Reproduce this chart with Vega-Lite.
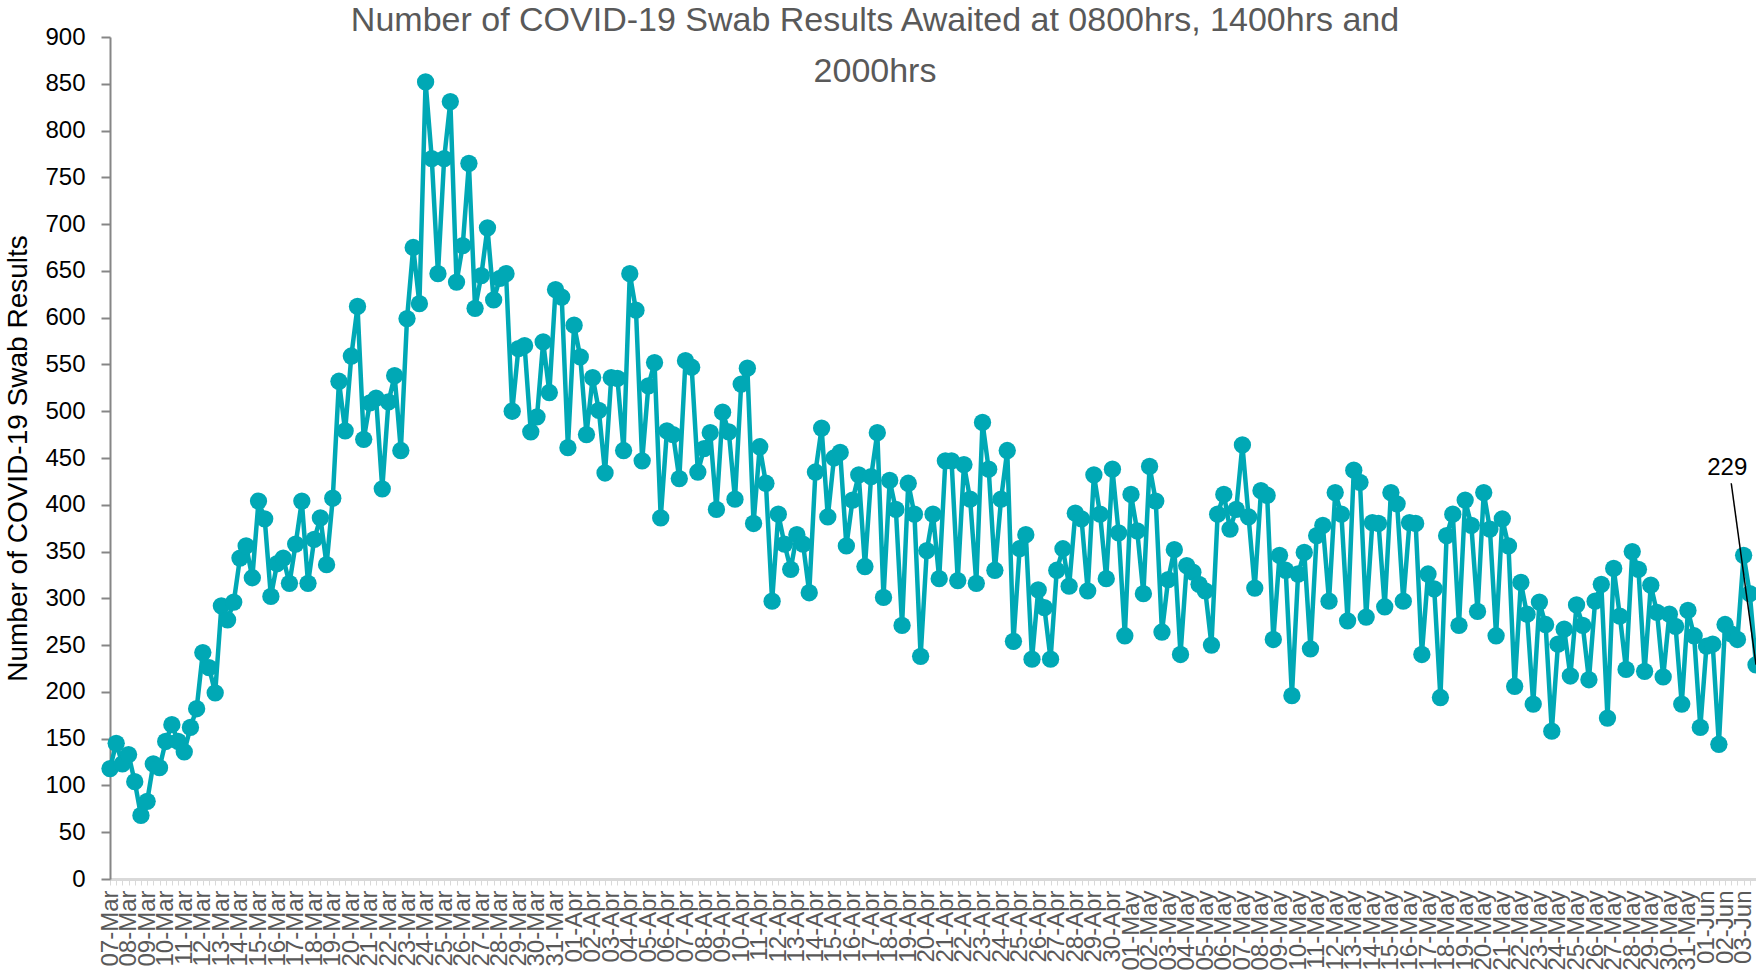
{
  "$schema": "https://vega.github.io/schema/vega-lite/v6.json",
  "autosize": "none",
  "width": 1646,
  "height": 842,
  "padding": {"left": 110, "top": 37, "right": 0, "bottom": 93},
  "background": "white",
  "config": {"view": {"stroke": null}, "font": "Liberation Sans"},
  "title": {
    "text": ["Number of COVID-19 Swab Results Awaited at 0800hrs, 1400hrs and", "2000hrs"],
    "font": "Liberation Sans",
    "fontSize": 34,
    "fontWeight": "normal",
    "color": "#595959",
    "lineHeight": 51,
    "anchor": "middle",
    "frame": "group",
    "dx": -58,
    "dy": 68
  },
  "datasets": {
    "swabs": [
{"slot":"07-Mar 0800","n":118},{"slot":"07-Mar 1400","n":145},{"slot":"07-Mar 2000","n":123},
{"slot":"08-Mar 0800","n":133},{"slot":"08-Mar 1400","n":104},{"slot":"08-Mar 2000","n":68},
{"slot":"09-Mar 0800","n":83},{"slot":"09-Mar 1400","n":123},{"slot":"09-Mar 2000","n":119},
{"slot":"10-Mar 0800","n":147},{"slot":"10-Mar 1400","n":165},{"slot":"10-Mar 2000","n":147},
{"slot":"11-Mar 0800","n":136},{"slot":"11-Mar 1400","n":162},{"slot":"11-Mar 2000","n":182},
{"slot":"12-Mar 0800","n":242},{"slot":"12-Mar 1400","n":226},{"slot":"12-Mar 2000","n":199},
{"slot":"13-Mar 0800","n":292},{"slot":"13-Mar 1400","n":277},{"slot":"13-Mar 2000","n":296},
{"slot":"14-Mar 0800","n":343},{"slot":"14-Mar 1400","n":356},{"slot":"14-Mar 2000","n":322},
{"slot":"15-Mar 0800","n":404},{"slot":"15-Mar 1400","n":385},{"slot":"15-Mar 2000","n":302},
{"slot":"16-Mar 0800","n":337},{"slot":"16-Mar 1400","n":343},{"slot":"16-Mar 2000","n":316},
{"slot":"17-Mar 0800","n":358},{"slot":"17-Mar 1400","n":404},{"slot":"17-Mar 2000","n":316},
{"slot":"18-Mar 0800","n":363},{"slot":"18-Mar 1400","n":386},{"slot":"18-Mar 2000","n":336},
{"slot":"19-Mar 0800","n":407},{"slot":"19-Mar 1400","n":532},{"slot":"19-Mar 2000","n":479},
{"slot":"20-Mar 0800","n":559},{"slot":"20-Mar 1400","n":612},{"slot":"20-Mar 2000","n":470},
{"slot":"21-Mar 0800","n":509},{"slot":"21-Mar 1400","n":514},{"slot":"21-Mar 2000","n":417},
{"slot":"22-Mar 0800","n":510},{"slot":"22-Mar 1400","n":538},{"slot":"22-Mar 2000","n":458},
{"slot":"23-Mar 0800","n":599},{"slot":"23-Mar 1400","n":675},{"slot":"23-Mar 2000","n":615},
{"slot":"24-Mar 0800","n":852},{"slot":"24-Mar 1400","n":770},{"slot":"24-Mar 2000","n":647},
{"slot":"25-Mar 0800","n":770},{"slot":"25-Mar 1400","n":831},{"slot":"25-Mar 2000","n":638},
{"slot":"26-Mar 0800","n":677},{"slot":"26-Mar 1400","n":765},{"slot":"26-Mar 2000","n":610},
{"slot":"27-Mar 0800","n":645},{"slot":"27-Mar 1400","n":696},{"slot":"27-Mar 2000","n":619},
{"slot":"28-Mar 0800","n":642},{"slot":"28-Mar 1400","n":647},{"slot":"28-Mar 2000","n":500},
{"slot":"29-Mar 0800","n":567},{"slot":"29-Mar 1400","n":570},{"slot":"29-Mar 2000","n":478},
{"slot":"30-Mar 0800","n":494},{"slot":"30-Mar 1400","n":574},{"slot":"30-Mar 2000","n":520},
{"slot":"31-Mar 0800","n":630},{"slot":"31-Mar 1400","n":622},{"slot":"31-Mar 2000","n":461},
{"slot":"01-Apr 0800","n":592},{"slot":"01-Apr 1400","n":558},{"slot":"01-Apr 2000","n":475},
{"slot":"02-Apr 0800","n":536},{"slot":"02-Apr 1400","n":501},{"slot":"02-Apr 2000","n":434},
{"slot":"03-Apr 0800","n":536},{"slot":"03-Apr 1400","n":535},{"slot":"03-Apr 2000","n":458},
{"slot":"04-Apr 0800","n":647},{"slot":"04-Apr 1400","n":608},{"slot":"04-Apr 2000","n":447},
{"slot":"05-Apr 0800","n":527},{"slot":"05-Apr 1400","n":552},{"slot":"05-Apr 2000","n":386},
{"slot":"06-Apr 0800","n":479},{"slot":"06-Apr 1400","n":475},{"slot":"06-Apr 2000","n":428},
{"slot":"07-Apr 0800","n":554},{"slot":"07-Apr 1400","n":547},{"slot":"07-Apr 2000","n":435},
{"slot":"08-Apr 0800","n":460},{"slot":"08-Apr 1400","n":477},{"slot":"08-Apr 2000","n":395},
{"slot":"09-Apr 0800","n":499},{"slot":"09-Apr 1400","n":478},{"slot":"09-Apr 2000","n":406},
{"slot":"10-Apr 0800","n":529},{"slot":"10-Apr 1400","n":546},{"slot":"10-Apr 2000","n":380},
{"slot":"11-Apr 0800","n":462},{"slot":"11-Apr 1400","n":423},{"slot":"11-Apr 2000","n":297},
{"slot":"12-Apr 0800","n":390},{"slot":"12-Apr 1400","n":358},{"slot":"12-Apr 2000","n":331},
{"slot":"13-Apr 0800","n":368},{"slot":"13-Apr 1400","n":358},{"slot":"13-Apr 2000","n":306},
{"slot":"14-Apr 0800","n":435},{"slot":"14-Apr 1400","n":482},{"slot":"14-Apr 2000","n":387},
{"slot":"15-Apr 0800","n":450},{"slot":"15-Apr 1400","n":456},{"slot":"15-Apr 2000","n":356},
{"slot":"16-Apr 0800","n":405},{"slot":"16-Apr 1400","n":432},{"slot":"16-Apr 2000","n":334},
{"slot":"17-Apr 0800","n":430},{"slot":"17-Apr 1400","n":477},{"slot":"17-Apr 2000","n":301},
{"slot":"18-Apr 0800","n":426},{"slot":"18-Apr 1400","n":395},{"slot":"18-Apr 2000","n":271},
{"slot":"19-Apr 0800","n":423},{"slot":"19-Apr 1400","n":390},{"slot":"19-Apr 2000","n":238},
{"slot":"20-Apr 0800","n":351},{"slot":"20-Apr 1400","n":390},{"slot":"20-Apr 2000","n":321},
{"slot":"21-Apr 0800","n":447},{"slot":"21-Apr 1400","n":447},{"slot":"21-Apr 2000","n":319},
{"slot":"22-Apr 0800","n":443},{"slot":"22-Apr 1400","n":406},{"slot":"22-Apr 2000","n":316},
{"slot":"23-Apr 0800","n":488},{"slot":"23-Apr 1400","n":438},{"slot":"23-Apr 2000","n":330},
{"slot":"24-Apr 0800","n":406},{"slot":"24-Apr 1400","n":458},{"slot":"24-Apr 2000","n":254},
{"slot":"25-Apr 0800","n":353},{"slot":"25-Apr 1400","n":368},{"slot":"25-Apr 2000","n":235},
{"slot":"26-Apr 0800","n":309},{"slot":"26-Apr 1400","n":290},{"slot":"26-Apr 2000","n":235},
{"slot":"27-Apr 0800","n":330},{"slot":"27-Apr 1400","n":353},{"slot":"27-Apr 2000","n":313},
{"slot":"28-Apr 0800","n":391},{"slot":"28-Apr 1400","n":385},{"slot":"28-Apr 2000","n":308},
{"slot":"29-Apr 0800","n":432},{"slot":"29-Apr 1400","n":390},{"slot":"29-Apr 2000","n":321},
{"slot":"30-Apr 0800","n":438},{"slot":"30-Apr 1400","n":370},{"slot":"30-Apr 2000","n":260},
{"slot":"01-May 0800","n":411},{"slot":"01-May 1400","n":372},{"slot":"01-May 2000","n":305},
{"slot":"02-May 0800","n":441},{"slot":"02-May 1400","n":404},{"slot":"02-May 2000","n":264},
{"slot":"03-May 0800","n":320},{"slot":"03-May 1400","n":352},{"slot":"03-May 2000","n":240},
{"slot":"04-May 0800","n":335},{"slot":"04-May 1400","n":328},{"slot":"04-May 2000","n":315},
{"slot":"05-May 0800","n":308},{"slot":"05-May 1400","n":250},{"slot":"05-May 2000","n":390},
{"slot":"06-May 0800","n":411},{"slot":"06-May 1400","n":374},{"slot":"06-May 2000","n":395},
{"slot":"07-May 0800","n":464},{"slot":"07-May 1400","n":387},{"slot":"07-May 2000","n":311},
{"slot":"08-May 0800","n":415},{"slot":"08-May 1400","n":410},{"slot":"08-May 2000","n":256},
{"slot":"09-May 0800","n":346},{"slot":"09-May 1400","n":330},{"slot":"09-May 2000","n":196},
{"slot":"10-May 0800","n":326},{"slot":"10-May 1400","n":349},{"slot":"10-May 2000","n":246},
{"slot":"11-May 0800","n":367},{"slot":"11-May 1400","n":378},{"slot":"11-May 2000","n":297},
{"slot":"12-May 0800","n":413},{"slot":"12-May 1400","n":390},{"slot":"12-May 2000","n":276},
{"slot":"13-May 0800","n":437},{"slot":"13-May 1400","n":424},{"slot":"13-May 2000","n":280},
{"slot":"14-May 0800","n":381},{"slot":"14-May 1400","n":380},{"slot":"14-May 2000","n":291},
{"slot":"15-May 0800","n":413},{"slot":"15-May 1400","n":401},{"slot":"15-May 2000","n":297},
{"slot":"16-May 0800","n":381},{"slot":"16-May 1400","n":380},{"slot":"16-May 2000","n":240},
{"slot":"17-May 0800","n":326},{"slot":"17-May 1400","n":310},{"slot":"17-May 2000","n":194},
{"slot":"18-May 0800","n":367},{"slot":"18-May 1400","n":390},{"slot":"18-May 2000","n":271},
{"slot":"19-May 0800","n":405},{"slot":"19-May 1400","n":378},{"slot":"19-May 2000","n":286},
{"slot":"20-May 0800","n":413},{"slot":"20-May 1400","n":374},{"slot":"20-May 2000","n":260},
{"slot":"21-May 0800","n":385},{"slot":"21-May 1400","n":356},{"slot":"21-May 2000","n":206},
{"slot":"22-May 0800","n":317},{"slot":"22-May 1400","n":283},{"slot":"22-May 2000","n":187},
{"slot":"23-May 0800","n":296},{"slot":"23-May 1400","n":272},{"slot":"23-May 2000","n":158},
{"slot":"24-May 0800","n":251},{"slot":"24-May 1400","n":267},{"slot":"24-May 2000","n":217},
{"slot":"25-May 0800","n":293},{"slot":"25-May 1400","n":271},{"slot":"25-May 2000","n":213},
{"slot":"26-May 0800","n":297},{"slot":"26-May 1400","n":315},{"slot":"26-May 2000","n":172},
{"slot":"27-May 0800","n":332},{"slot":"27-May 1400","n":281},{"slot":"27-May 2000","n":224},
{"slot":"28-May 0800","n":350},{"slot":"28-May 1400","n":331},{"slot":"28-May 2000","n":222},
{"slot":"29-May 0800","n":314},{"slot":"29-May 1400","n":285},{"slot":"29-May 2000","n":216},
{"slot":"30-May 0800","n":283},{"slot":"30-May 1400","n":270},{"slot":"30-May 2000","n":187},
{"slot":"31-May 0800","n":287},{"slot":"31-May 1400","n":260},{"slot":"31-May 2000","n":162},
{"slot":"01-Jun 0800","n":249},{"slot":"01-Jun 1400","n":251},{"slot":"01-Jun 2000","n":144},
{"slot":"02-Jun 0800","n":272},{"slot":"02-Jun 1400","n":262},{"slot":"02-Jun 2000","n":256},
{"slot":"03-Jun 0800","n":346},{"slot":"03-Jun 1400","n":305},{"slot":"03-Jun 2000","n":229}
    ]
  },
  "data": {"name": "swabs"},
  "encoding": {
    "x": {
      "field": "slot",
      "type": "ordinal",
      "sort": null,
      "scale": {"type": "point", "padding": 0},
      "axis": {
        "title": null,
        "labelAngle": -90,
        "labelExpr": "slice(datum.value, 7) == '0800' ? slice(datum.value, 0, 6) : ''",
        "labelOverlap": false,
        "labelBound": false,
        "labelFlush": false,
        "labelFont": "Liberation Sans",
        "labelFontSize": 24,
        "labelColor": "#595959",
        "labelPadding": 5,
        "tickColor": "#d9d9d9",
        "tickSize": 6,
        "tickWidth": 1,
        "domainColor": "#d9d9d9",
        "domainWidth": 3
      }
    },
    "y": {
      "field": "n",
      "type": "quantitative",
      "scale": {"domain": [0, 900], "nice": false, "zero": true},
      "axis": {
        "title": "Number of COVID-19 Swab Results",
        "titleFont": "Liberation Sans",
        "titleFontSize": 28,
        "titleFontWeight": "normal",
        "titleColor": "#000000",
        "titleX": -92,
        "titleY": 421,
        "titleAngle": -90,
        "titleAlign": "center",
        "titleBaseline": "middle",
        "values": [0,50,100,150,200,250,300,350,400,450,500,550,600,650,700,750,800,850,900],
        "grid": false,
        "labelFont": "Liberation Sans",
        "labelFontSize": 24,
        "labelColor": "#000000",
        "labelPadding": 16,
        "tickColor": "#868686",
        "tickSize": 9,
        "tickWidth": 2,
        "domainColor": "#868686",
        "domainWidth": 2
      }
    }
  },
  "layer": [
    {"mark": {"type": "line", "color": "#00A8B5", "strokeWidth": 4.5}},
    {"mark": {"type": "circle", "color": "#00A8B5", "size": 300, "opacity": 1}},
    {
      "transform": [{"filter": "datum.slot == '03-Jun 2000'"}],
      "mark": {"type": "rule", "color": "#000000", "strokeWidth": 1.5},
      "encoding": {
        "x": {"datum": "02-Jun 1400", "type": "ordinal"},
        "y": {"datum": 423, "type": "quantitative"},
        "x2": {"field": "slot"},
        "y2": {"field": "n"}
      }
    },
    {
      "transform": [{"filter": "datum.slot == '03-Jun 2000'"}],
      "mark": {"type": "text", "font": "Liberation Sans", "fontSize": 24, "color": "#000000", "baseline": "bottom", "align": "center", "dy": -3, "dx": -4},
      "encoding": {
        "x": {"datum": "02-Jun 1400", "type": "ordinal"},
        "y": {"datum": 423, "type": "quantitative"},
        "text": {"field": "n", "type": "quantitative"}
      }
    }
  ]
}
